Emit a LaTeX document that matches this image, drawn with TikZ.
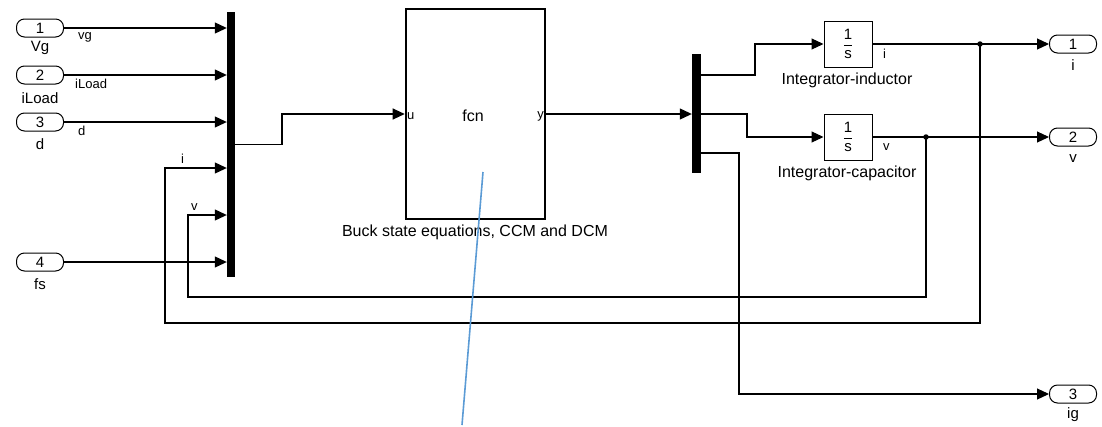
\documentclass[tikz,border=0pt]{standalone}
\usepackage{fontspec}
\setmainfont{Liberation Sans}
\usetikzlibrary{arrows.meta}
\definecolor{annblue}{HTML}{5B9BD5}
\tikzset{
  wire/.style={line width=1.1pt, line join=miter},
  arr/.style={wire, -{Triangle[length=12pt,width=11pt]}},
  port/.style={draw, line width=1pt, rectangle, rounded corners=8pt, minimum width=47pt, minimum height=18pt, inner sep=0pt, font=\fontsize{15}{17}\selectfont},
  portlbl/.style={font=\fontsize{15}{17}\selectfont, inner sep=0pt},
  siglbl/.style={font=\fontsize{13}{15}\selectfont, inner sep=0pt, anchor=west},
  blklbl/.style={font=\fontsize{16}{18}\selectfont, inner sep=0pt},
  muxbar/.style={fill=black, draw=none, inner sep=0pt},
  integ/.style={draw, line width=1pt, minimum width=48pt, minimum height=46pt, inner sep=0pt, font=\fontsize{15}{17}\selectfont},
  dotn/.style={circle, fill=black, inner sep=0pt, minimum size=5.5pt},
}
\begin{document}
\begin{tikzpicture}[x=1pt, y=-1pt]
\useasboundingbox (0,0) rectangle (1102,426);
% inports
\node[port] (in1) at (40,28) {1};
\node[port] (in2) at (40,75) {2};
\node[port] (in3) at (40,122) {3};
\node[port] (in4) at (40,262) {4};
\node[portlbl] (l1) at (40,48) {Vg};
\node[portlbl] (l2) at (40,98) {iLoad};
\node[portlbl] (l3) at (40,144) {d};
\node[portlbl] (l4) at (40,284) {fs};
% mux
\node[muxbar, minimum width=8pt, minimum height=265pt] (mux1) at (231,144.5) {};
% fcn
\node[draw, line width=2.6pt, minimum width=139pt, minimum height=210pt, inner sep=0pt] (fcn) at (475.5,114) {};
\node[blklbl] (fcnt) at (473,116) {fcn};
\node[blklbl, anchor=west, font=\fontsize{13}{15}\selectfont] (fu) at (fcn.west |- 0,116) {\,u};
\node[blklbl, anchor=east, font=\fontsize{13}{15}\selectfont] (fy) at (fcn.east |- 0,116) {y\,};
\node[blklbl] (fcnl) at (475,232) {Buck state equations, CCM and DCM};
% demux
\node[muxbar, minimum width=9pt, minimum height=119pt] (demux) at (696.5,113.5) {};
% integrators
\node[integ] (int1) at (848,44) {$\displaystyle\frac{\mbox{1}}{\mbox{s}}$};
\node[integ] (int2) at (848,137) {$\displaystyle\frac{\mbox{1}}{\mbox{s}}$};
\node[blklbl] (il1) at (847,80) {Integrator-inductor};
\node[blklbl] (il2) at (847,173) {Integrator-capacitor};
% outports
\node[port] (out1) at (1073,44) {1};
\node[port] (out2) at (1073,137) {2};
\node[port] (out3) at (1073,394) {3};
\node[portlbl] (ol1) at (1073,65) {i};
\node[portlbl] (ol2) at (1073,159) {v};
\node[portlbl] (ol3) at (1073,415) {ig};
% branch points
\node[dotn] (d1) at (980,44) {};
\node[dotn] (d2) at (926,137) {};
% helper coordinates
\coordinate (m5) at (231,168);
\coordinate (m6) at (231,215);
% wires into mux
\draw[arr] (in1.east) -- (in1.east -| mux1.west);
\draw[arr] (in2.east) -- (in2.east -| mux1.west);
\draw[arr] (in3.east) -- (in3.east -| mux1.west);
\draw[arr] (in4.east) -- (in4.east -| mux1.west);
\node[siglbl] (s1) at (78,37) {vg};
\node[siglbl] (s2) at (75,84) {iLoad};
\node[siglbl] (s3) at (78,131) {d};
\node[siglbl] (s4) at (181,159) {i};
\node[siglbl] (s5) at (191,207) {v};
% mux -> fcn
\draw[arr] (mux1.east) -- (282,144.5) |- (fcn.west);
% fcn -> demux
\draw[arr] (fcn.east) -- (fcn.east -| demux.west);
% demux outputs
\draw[arr] (demux.east |- 0,75) -- (755,75) |- (int1.west);
\draw[arr] (demux.east |- 0,114) -- (747,114) |- (int2.west);
\draw[arr] (demux.east |- 0,153) -- (739,153) |- (out3.west);
% integrator outputs
\draw[arr] (int1.east) -- (out1.west);
\draw[arr] (int2.east) -- (out2.west);
\node[siglbl] (s6) at (883,54) {i};
\node[siglbl] (s7) at (883,147) {v};
% feedback
\draw[arr] (d1.center) -- (980,323) -| (165,168) -- (m5 -| mux1.west);
\draw[arr] (d2.center) -- (926,297) -| (188,215) -- (m6 -| mux1.west);
% annotation line
\draw[annblue, line width=1.6pt] (483,172) -- (462,425);
\end{tikzpicture}
\end{document}
